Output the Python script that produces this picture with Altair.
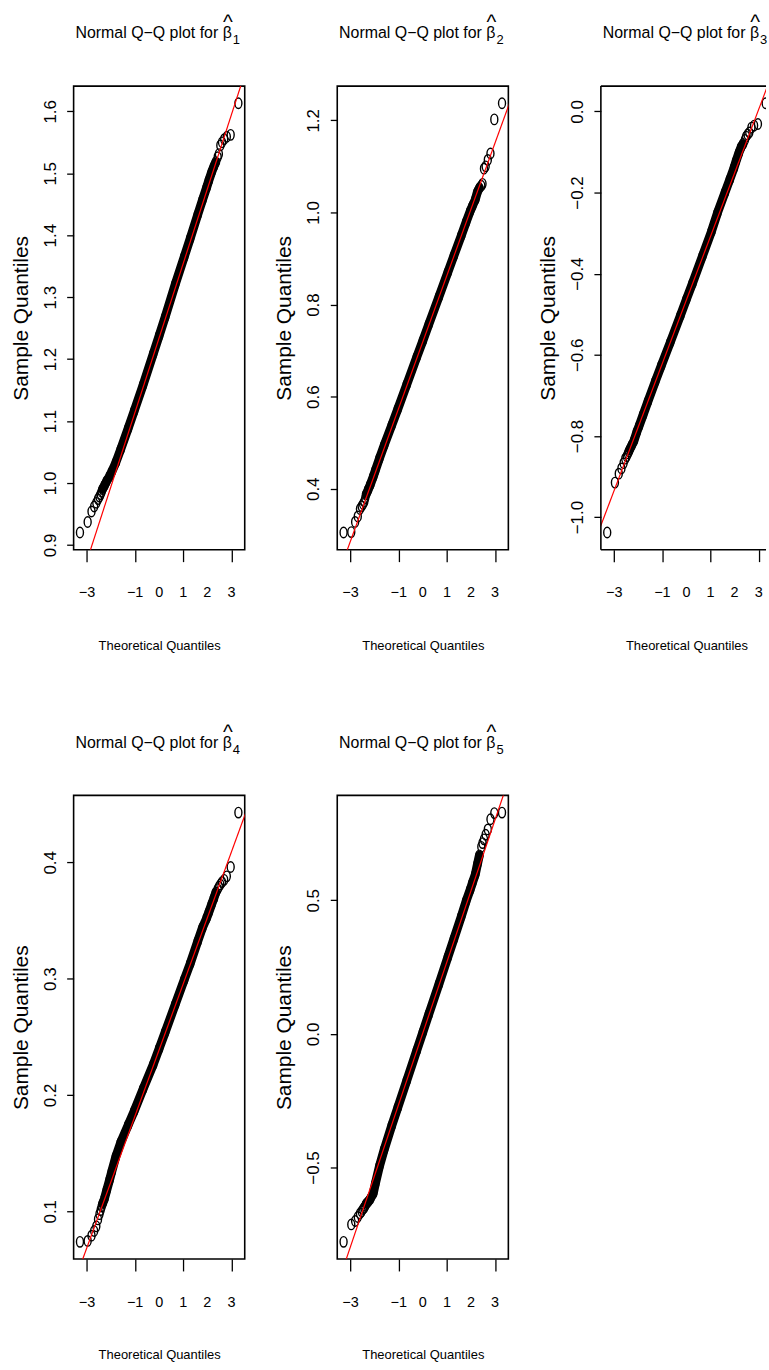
import altair as alt
import pandas as pd

# Theoretical normal quantiles shared by all five Q-Q plots
theoretical = [-3.29, -2.97, -2.81, -2.70, -2.61, -2.54, -2.48, -2.43, -2.39, -2.35,
               -2.27, -2.18, -2.06, -1.97, -1.80, -1.60, -1.29, -1.04, -0.67, -0.25,
               0.00, 0.25, 0.67, 1.04, 1.29, 1.60, 1.80, 1.97, 2.06, 2.18,
               2.27, 2.35, 2.43, 2.48, 2.54, 2.61, 2.70, 2.81, 2.97, 3.29]

# Sample quantiles of each coefficient estimate
beta_1 = [0.920, 0.937, 0.954, 0.962, 0.968, 0.974, 0.978, 0.982, 0.986, 0.990,
          0.996, 1.003, 1.011, 1.018, 1.033, 1.054, 1.088, 1.116, 1.158, 1.208,
          1.238, 1.268, 1.321, 1.365, 1.395, 1.433, 1.457, 1.477, 1.488, 1.502,
          1.511, 1.518, 1.526, 1.531, 1.545, 1.550, 1.555, 1.559, 1.562, 1.613]
beta_2 = [0.305, 0.306, 0.328, 0.340, 0.356, 0.362, 0.367, 0.372, 0.380, 0.388,
          0.398, 0.409, 0.426, 0.440, 0.466, 0.495, 0.538, 0.573, 0.626, 0.686,
          0.721, 0.757, 0.817, 0.870, 0.906, 0.950, 0.979, 1.003, 1.014, 1.028,
          1.045, 1.053, 1.058, 1.062, 1.095, 1.100, 1.114, 1.128, 1.202, 1.237]
beta_3 = [-1.038, -0.915, -0.893, -0.880, -0.867, -0.856, -0.850, -0.843, -0.838, -0.833,
          -0.823, -0.812, -0.790, -0.776, -0.748, -0.715, -0.665, -0.626, -0.569, -0.503,
          -0.463, -0.424, -0.356, -0.296, -0.250, -0.200, -0.168, -0.140, -0.123, -0.102,
          -0.088, -0.080, -0.070, -0.062, -0.057, -0.052, -0.040, -0.035, -0.031, 0.020]
beta_4 = [0.0737, 0.0745, 0.0790, 0.0830, 0.0870, 0.0930, 0.0975, 0.1010, 0.1040, 0.1065,
          0.1110, 0.1180, 0.1270, 0.1340, 0.1470, 0.1590, 0.1740, 0.1860, 0.2050, 0.2260,
          0.2400, 0.2540, 0.2780, 0.2990, 0.3130, 0.3320, 0.3440, 0.3520, 0.3570, 0.3640,
          0.3690, 0.3740, 0.3770, 0.3790, 0.3810, 0.3830, 0.3850, 0.3880, 0.3960, 0.4428]
beta_5 = [-0.778, -0.713, -0.700, -0.685, -0.672, -0.664, -0.655, -0.650, -0.643, -0.636,
          -0.628, -0.617, -0.597, -0.560, -0.495, -0.432, -0.343, -0.276, -0.176, -0.062,
          0.006, 0.074, 0.186, 0.287, 0.355, 0.440, 0.497, 0.540, 0.565, 0.597,
          0.635, 0.668, 0.700, 0.714, 0.728, 0.745, 0.765, 0.803, 0.826, 0.828]
samples = [beta_1, beta_2, beta_3, beta_4, beta_5]

# Reference line through the quartiles (qqline): intercept and slope per panel
qq_intercept = [1.2345, 0.719, -0.4646, 0.2389, 0.003]
qq_slope = [0.120, 0.144, 0.1565, 0.0567, 0.266]

# x ticks at every integer; the -2 label is left out, as base R drops it for room
x_tick_values = [-3, -2, -1, 0, 1, 2, 3]
x_tick_labels = ["\u22123", "", "\u22121", "0", "1", "2", "3"]
y_tick_values = [
    [0.9, 1.0, 1.1, 1.2, 1.3, 1.4, 1.5, 1.6],
    [0.4, 0.6, 0.8, 1.0, 1.2],
    [-1.0, -0.8, -0.6, -0.4, -0.2, 0.0],
    [0.1, 0.2, 0.3, 0.4],
    [-0.5, 0.0, 0.5],
]
subscripts = ["1", "2", "3", "4", "5"]

FONT = "Liberation Sans, Arial, Helvetica, sans-serif"

PANEL_W = 172
PANEL_H = 466
CLIPPED_W = 166  # the third panel runs off the right edge of the page
BOX_W = 1.6

# open plotting circle, drawn slightly taller than wide
ELLIPSE = "M -0.67 0 A 0.67 1 0 1 1 0.67 0 A 0.67 1 0 1 1 -0.67 0 Z"


def r_range(lo, hi):
    """Axis range as base R draws it: data range widened by 4% each side."""
    ext = 0.04 * (hi - lo)
    return [lo - ext, hi + ext]


x_full = r_range(min(theoretical), max(theoretical))
px_per_unit = PANEL_W / (x_full[1] - x_full[0])

tick_label_df = pd.DataFrame({"theo": x_tick_values, "label": x_tick_labels})
tick_label_df = tick_label_df[tick_label_df["label"] != ""]


def panel(k, width):
    sample = samples[k]
    pts = pd.DataFrame({"theo": theoretical, "sample": sample})
    xdom = [x_full[0], x_full[0] + width / px_per_unit]
    ydom = r_range(min(sample), max(sample))
    ends = [-4.0, 4.0]
    ref = pd.DataFrame({"theo": ends,
                        "sample": [qq_intercept[k] + qq_slope[k] * t for t in ends]})

    x_enc = alt.X("theo:Q",
                  scale=alt.Scale(domain=xdom, nice=False, zero=False),
                  axis=alt.Axis(values=x_tick_values, labels=False,
                                title="Theoretical Quantiles"))
    y_enc = alt.Y("sample:Q",
                  scale=alt.Scale(domain=ydom, nice=False, zero=False),
                  axis=alt.Axis(values=y_tick_values[k], format=".1f",
                                labelOverlap=False, labelFlush=False,
                                title="Sample Quantiles"))

    base = alt.Chart(pts).encode(x=x_enc, y=y_enc)
    band = base.transform_filter("abs(datum.theo) <= 2.36").mark_line(
        color="black", strokeWidth=9, strokeCap="round", strokeJoin="round", clip=True)
    dots = base.mark_point(shape=ELLIPSE, size=110, filled=False, color="black",
                           strokeWidth=1.4, opacity=1, clip=True)
    qqline = alt.Chart(ref).mark_line(color="red", strokeWidth=1.2, clip=True).encode(
        x="theo:Q", y="sample:Q")

    # x tick labels, set below the ticks
    tick_labels = alt.Chart(tick_label_df).mark_text(
        font=FONT, fontSize=14.5, align="center", baseline="alphabetic", color="black"
    ).encode(x="theo:Q", y=alt.value(PANEL_H + 48), text="label:N")

    one = alt.Data(values=[{}])
    title_main = alt.Chart(one).mark_text(
        text="Normal Q\u2212Q plot for \u03b2", font=FONT, fontSize=16,
        align="right", baseline="alphabetic", color="black"
    ).encode(x=alt.value(159), y=alt.value(-48))
    title_hat = alt.Chart(one).mark_text(
        text="^", font=FONT, fontSize=21, align="center", baseline="alphabetic",
        color="black"
    ).encode(x=alt.value(155.0), y=alt.value(-57))
    title_sub = alt.Chart(one).mark_text(
        text=subscripts[k], font=FONT, fontSize=13, align="left",
        baseline="alphabetic", color="black"
    ).encode(x=alt.value(160.0), y=alt.value(-42))

    layers = [band, dots, qqline, tick_labels, title_main, title_hat, title_sub]
    props = dict(width=width, height=PANEL_H)
    if width != PANEL_W:
        # box drawn on three sides only: its right side lies past the page edge
        top = alt.Chart(one).mark_rule(color="black", strokeWidth=BOX_W).encode(
            x=alt.value(0), x2=alt.value(width), y=alt.value(0))
        bottom = alt.Chart(one).mark_rule(color="black", strokeWidth=BOX_W).encode(
            x=alt.value(0), x2=alt.value(width), y=alt.value(PANEL_H))
        left = alt.Chart(one).mark_rule(color="black", strokeWidth=BOX_W).encode(
            x=alt.value(0), y=alt.value(0), y2=alt.value(PANEL_H))
        layers += [top, bottom, left]
        props["view"] = alt.ViewBackground(stroke="transparent")
    return alt.layer(*layers).properties(**props)


panels = [panel(0, PANEL_W), panel(1, PANEL_W), panel(2, CLIPPED_W),
          panel(3, PANEL_W), panel(4, PANEL_W)]

chart = alt.concat(
    *panels, columns=3, spacing={"row": 247, "column": 93}, bounds="flush"
).properties(
    padding={"left": 9, "top": 8, "right": 0, "bottom": 0},
    background="white",
).configure_view(
    stroke="black", strokeWidth=BOX_W
).configure_axis(
    grid=False, domain=False, tickColor="black", tickWidth=1.3,
    labelColor="black", titleColor="black", titleFontWeight="normal",
).configure_axisX(
    tickSize=12,
    titleFont=FONT, titleFontSize=13, titleX=86, titleY=100,
    titleAlign="center", titleBaseline="alphabetic",
).configure_axisY(
    labelFont=FONT, labelFontSize=17, labelAngle=270, labelAlign="center",
    labelBaseline="bottom", tickSize=7, labelPadding=7.4,
    titleFont=FONT, titleFontSize=21, titleAngle=270, titleX=-52.5, titleY=233,
    titleAlign="center", titleBaseline="middle",
)

chart.save("out.html", embed_options={"renderer": "svg", "actions": False})
